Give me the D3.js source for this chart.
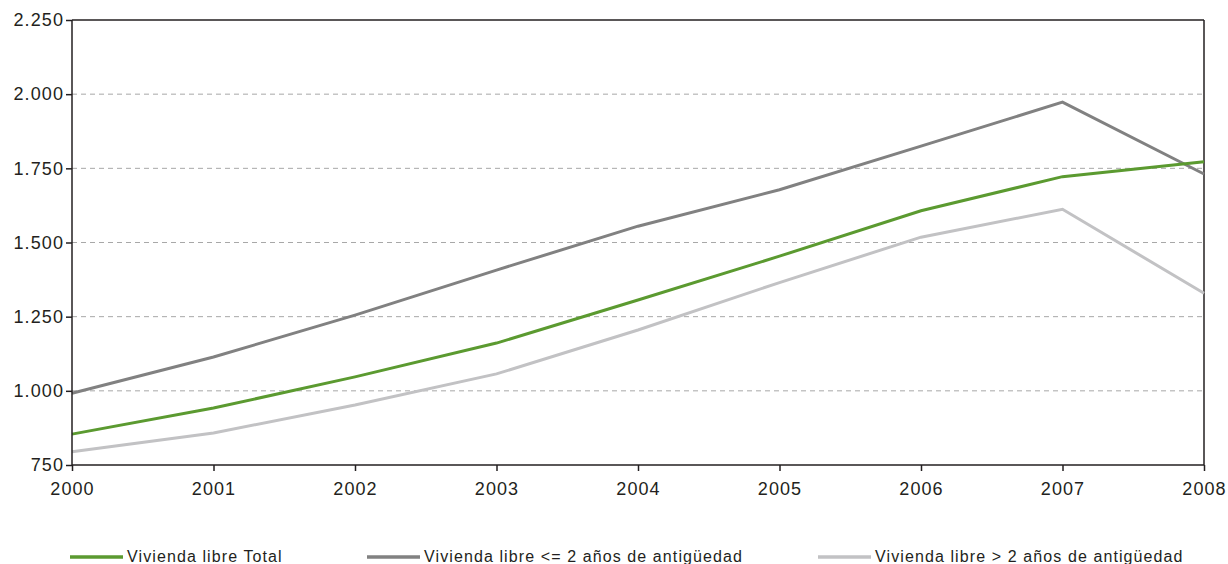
<!DOCTYPE html>
<html><head><meta charset="utf-8">
<script src="https://cdn.jsdelivr.net/npm/d3@7"></script>
<style>
body{margin:0;background:#fff;}
text{font-family:"Liberation Sans",Arial,sans-serif;fill:#231f20;}
</style></head>
<body><svg id="c" width="1228" height="564"></svg>
<script>
const years = [2000,2001,2002,2003,2004,2005,2006,2007,2008];
const yTicks = [750,1000,1250,1500,1750,2000,2250];
const seriesNames = ["Vivienda libre Total","Vivienda libre <= 2 años de antigüedad","Vivienda libre > 2 años de antigüedad"];
const totalVals = [854,942,1047,1161,1306,1454,1607,1722,1772];
const newVals = [992,1114,1255,1407,1555,1678,1825,1973,1731];
const oldVals = [795,858,952,1057,1205,1365,1518,1612,1329];
const colors = ["#5b9a30","#818181","#c2c2c4"];

const svg = d3.select("#c");
const L=72,R=1204,T=20,B=465;
const x = d3.scaleLinear().domain([2000,2008]).range([L,R]);
const y = d3.scaleLinear().domain([750,2250]).range([B,T]);

// grid
svg.append("g").selectAll("line").data(yTicks.filter(v=>v>750&&v<2250)).join("line")
  .attr("x1",L).attr("x2",R).attr("y1",d=>y(d)).attr("y2",d=>y(d))
  .attr("stroke","#a8a8a8").attr("stroke-width",1).attr("stroke-dasharray","5,4");

// frame top/right
svg.append("line").attr("x1",L).attr("x2",R).attr("y1",T).attr("y2",T).attr("stroke","#231f20").attr("stroke-width",1.5);
svg.append("line").attr("x1",R).attr("x2",R).attr("y1",T).attr("y2",B).attr("stroke","#231f20").attr("stroke-width",1.5);

const series=[totalVals,newVals,oldVals];
const line = d3.line().x((d,i)=>x(years[i])).y(d=>y(d));
[2,1,0].forEach(k=>{
  svg.append("path").datum(series[k]).attr("d",line).attr("fill","none")
    .attr("stroke",colors[k]).attr("stroke-width",3).attr("stroke-linejoin","miter");
});

const yAxis = svg.append("g").attr("transform",`translate(${L},0)`)
  .call(d3.axisLeft(y).tickValues(yTicks).tickSize(6).tickPadding(2)
    .tickFormat(d=>d3.format(",")(d).replace(",",".")));
const xAxis = svg.append("g").attr("transform",`translate(0,${B})`)
  .call(d3.axisBottom(x).tickValues(years).tickSize(6).tickPadding(11).tickFormat(d3.format("d")));
[yAxis,xAxis].forEach(g=>{
  g.select(".domain").attr("stroke","#231f20").attr("stroke-width",1.5);
  g.selectAll(".tick line").attr("stroke","#231f20").attr("stroke-width",1.5);
  g.selectAll("text").attr("font-size","18px").attr("letter-spacing","1.1px")
    .style("font-family","'Liberation Sans',Arial,sans-serif").attr("fill","#231f20");
});
xAxis.select(".domain").attr("d",`M${L},0H${R}`);
yAxis.select(".domain").attr("d",`M0,${T}V${B}`);

// legend
const legX=[70,367,818];
const lg = svg.append("g");
seriesNames.forEach((n,i)=>{
  lg.append("line").attr("x1",legX[i]).attr("x2",legX[i]+53).attr("y1",557).attr("y2",557)
    .attr("stroke",colors[i]).attr("stroke-width",3.5);
  lg.append("text").attr("x",legX[i]+57).attr("y",562).attr("font-size","16px")
    .attr("letter-spacing","1.1px").text(n);
});
</script></body></html>
